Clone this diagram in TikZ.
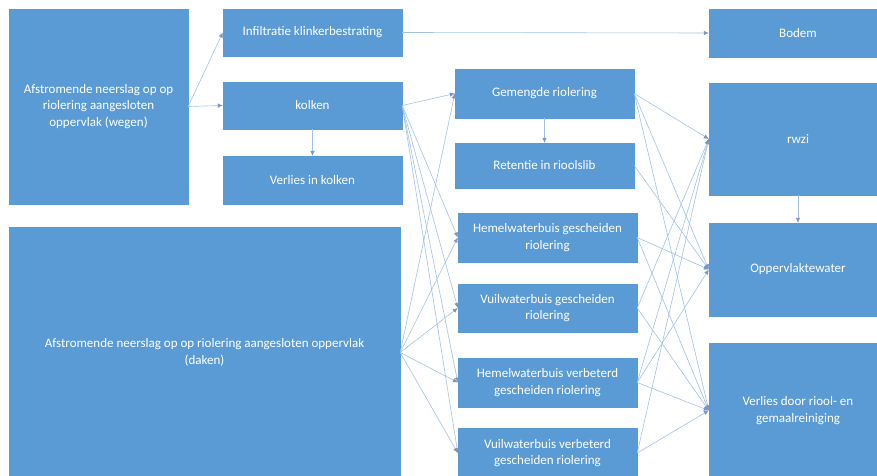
\documentclass[tikz,border=0pt]{standalone}
\usepackage{fontspec}
\setmainfont{Carlito}
\usetikzlibrary{fit}
\usetikzlibrary{arrows.meta}
\definecolor{blok}{RGB}{91,155,213}
\definecolor{lijn}{RGB}{163,193,228}
\definecolor{punt}{RGB}{118,152,198}

\tikzset{
	vak/.style={fill=blok, draw=blok, fit={#1}, inner sep=0pt},
	pijl/.style={lijn, line width=.6pt, -{Latex[length=5pt, width=4.5pt, color=punt]}}
}

\begin{document}
\begin{tikzpicture}[x=1pt, y=1pt,
	every label/.style={align=center, text=white, font=\fontsize{13}{16.5}\selectfont}]
	\useasboundingbox (0,0) rectangle (877,475);
	\clip (0,0) rectangle (877,475);

	\node[vak={(9,271) (188,466)}, label={center:Afstromende neerslag op op\\riolering aangesloten\\oppervlak (wegen)}] (wegen) {};	% bronnen
	\node[vak={(9,-3) (400,248)}, label={center:Afstromende neerslag op op riolering aangesloten oppervlak\\(daken)}] (daken) {};

	\node[vak={(223,419) (402,466)}, label=center:Infiltratie klinkerbestrating] (infil) {};	% wegen
	\node[vak={(223,346) (402,393)}, label=center:kolken] (kolk) {};
	\node[vak={(223,271) (402,319)}, label=center:Verlies in kolken] (vkolk) {};

	\node[vak={(455,357) (634,406)}, label=center:Gemengde riolering] (gem) {};	% stelsels
	\node[vak={(455,287) (634,332)}, label=center:Retentie in rioolslib] (ret) {};
	\node[vak={(458,213) (637,262)}, label={center:Hemelwaterbuis gescheiden\\riolering}] (hges) {};
	\node[vak={(458,143) (637,191)}, label={center:Vuilwaterbuis gescheiden\\riolering}] (vges) {};
	\node[vak={(458,68) (637,117)}, label={center:Hemelwaterbuis verbeterd\\gescheiden riolering}] (hverb) {};
	\node[vak={(458,-3) (637,47)}, label={center:Vuilwaterbuis verbeterd\\gescheiden riolering}] (vverb) {};

	\node[vak={(709,418) (887,466)}, label=center:Bodem] (bodem) {};	% ontvangers
	\node[vak={(709,280) (887,392)}, label=center:rwzi] (rwzi) {};
	\node[vak={(709,159) (887,252)}, label=center:Oppervlaktewater] (opp) {};
	\node[vak={(709,-3) (887,132)}, label={center:Verlies door riool- en\\gemaalreiniging}] (vriool) {};

	\draw[pijl] (wegen.east) -- (infil.west);	% wegen
	\draw[pijl] (wegen.east) -- (kolk.west);
	\draw[pijl] (infil.east) -- (bodem.west);
	\draw[pijl] (kolk.south) -- (vkolk.north);

	\draw[pijl] (kolk.east) -- (gem.west);	% naar stelsels
	\draw[pijl] (kolk.east) -- (hges.west);
	\draw[pijl] (kolk.east) -- (vges.west);
	\draw[pijl] (kolk.east) -- (hverb.west);
	\draw[pijl] (kolk.east) -- (vverb.west);
	\draw[pijl] (daken.east) -- (gem.west);
	\draw[pijl] (daken.east) -- (hges.west);
	\draw[pijl] (daken.east) -- (vges.west);
	\draw[pijl] (daken.east) -- (hverb.west);
	\draw[pijl] (daken.east) -- (vverb.west);

	\draw[pijl] (gem.south) -- (ret.north);	% naar ontvangers
	\draw[pijl] (gem.east) -- (rwzi.west);
	\draw[pijl] (gem.east) -- (opp.west);
	\draw[pijl] (gem.east) -- (vriool.west);
	\draw[pijl] (ret.east) -- (opp.west);
	\draw[pijl] (hges.east) -- (opp.west);
	\draw[pijl] (hges.east) -- (vriool.west);
	\draw[pijl] (vges.east) -- (rwzi.west);
	\draw[pijl] (vges.east) -- (vriool.west);
	\draw[pijl] (hverb.east) -- (rwzi.west);
	\draw[pijl] (hverb.east) -- (opp.west);
	\draw[pijl] (hverb.east) -- (vriool.west);
	\draw[pijl] (vverb.east) -- (rwzi.west);
	\draw[pijl] (vverb.east) -- (vriool.west);
	\draw[pijl] (rwzi.south) -- (opp.north);
\end{tikzpicture}
\end{document}
